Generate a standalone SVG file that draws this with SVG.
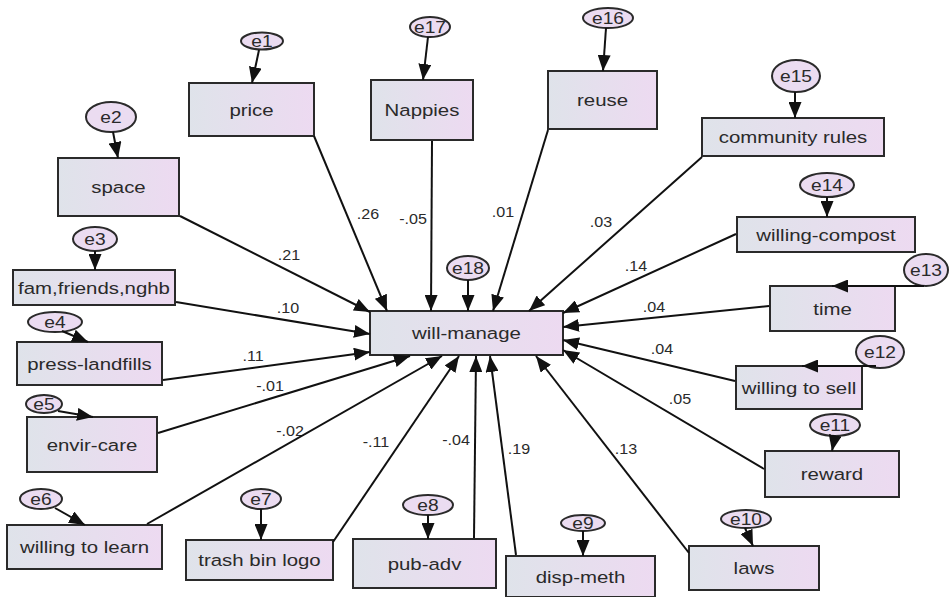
<svg xmlns="http://www.w3.org/2000/svg" width="952" height="597" viewBox="0 0 952 597">
<defs>
<linearGradient id="bg" x1="0" y1="0" x2="1" y2="0">
<stop offset="0" stop-color="#dfe3ea"/>
<stop offset="1" stop-color="#eddaf1"/>
</linearGradient>
<marker id="ah" markerUnits="userSpaceOnUse" markerWidth="17" markerHeight="13" refX="16" refY="6.5" orient="auto">
<path d="M0,0 L16,6.5 L0,13 z" fill="#111"/>
</marker>
<style>
.box{fill:url(#bg);stroke:#2a2a2a;stroke-width:2}
.err{fill:#ebdcf1;stroke:#2a2a2a;stroke-width:2}
.t{font-family:"Liberation Sans",Arial,sans-serif;font-size:17px;fill:#2a2a2a;text-anchor:middle}
.et{font-family:"Liberation Sans",Arial,sans-serif;font-size:16px;fill:#2a2a2a;text-anchor:middle}
.lb{font-family:"Liberation Sans",Arial,sans-serif;font-size:14px;fill:#2a2a2a;text-anchor:middle}
.c{stroke:#111;stroke-width:2;fill:none;marker-end:url(#ah)}
</style>
</defs>
<rect width="952" height="597" fill="#fff"/>
<g id="labels">
<text class="lb" transform="matrix(1.15 0 0 1 368 219)">.26</text>
<text class="lb" transform="matrix(1.15 0 0 1 413 224)">-.05</text>
<text class="lb" transform="matrix(1.15 0 0 1 503 217)">.01</text>
<text class="lb" transform="matrix(1.15 0 0 1 601 227)">.03</text>
<text class="lb" transform="matrix(1.15 0 0 1 636 271)">.14</text>
<text class="lb" transform="matrix(1.15 0 0 1 289 260)">.21</text>
<text class="lb" transform="matrix(1.15 0 0 1 288 313)">.10</text>
<text class="lb" transform="matrix(1.15 0 0 1 253 361)">.11</text>
<text class="lb" transform="matrix(1.15 0 0 1 270 391)">-.01</text>
<text class="lb" transform="matrix(1.15 0 0 1 654 312)">.04</text>
<text class="lb" transform="matrix(1.15 0 0 1 662 354)">.04</text>
<text class="lb" transform="matrix(1.15 0 0 1 680 404)">.05</text>
<text class="lb" transform="matrix(1.15 0 0 1 290 436)">-.02</text>
<text class="lb" transform="matrix(1.15 0 0 1 376 447)">-.11</text>
<text class="lb" transform="matrix(1.15 0 0 1 456 445)">-.04</text>
<text class="lb" transform="matrix(1.15 0 0 1 519 454)">.19</text>
<text class="lb" transform="matrix(1.15 0 0 1 626 454)">.13</text>
</g>
<g id="price"><rect class="box" x="189" y="83" width="125" height="53"/><text class="t" transform="matrix(1.2 0 0 1 251.5 115.5)">price</text></g>
<g id="Nappies"><rect class="box" x="371" y="80" width="102" height="60"/><text class="t" transform="matrix(1.2 0 0 1 422 116)">Nappies</text></g>
<g id="reuse"><rect class="box" x="548" y="71" width="109" height="58"/><text class="t" transform="matrix(1.2 0 0 1 602.5 106)">reuse</text></g>
<g id="community-rules"><rect class="box" x="702" y="118" width="182" height="38"/><text class="t" transform="matrix(1.2 0 0 1 793 143)">community rules</text></g>
<g id="space"><rect class="box" x="58" y="158" width="121" height="58"/><text class="t" transform="matrix(1.2 0 0 1 118.5 193)">space</text></g>
<g id="willing-compost"><rect class="box" x="737" y="217" width="178" height="35"/><text class="t" transform="matrix(1.2 0 0 1 826 240.5)">willing-compost</text></g>
<g id="fam"><rect class="box" x="13" y="270" width="162" height="35"/><text class="t" transform="matrix(1.2 0 0 1 94 293.5)">fam,friends,nghb</text></g>
<g id="time"><rect class="box" x="770" y="286" width="125" height="45"/><text class="t" transform="matrix(1.2 0 0 1 832.5 314.5)">time</text></g>
<g id="press-landfills"><rect class="box" x="17" y="342" width="145" height="43"/><text class="t" transform="matrix(1.2 0 0 1 89.5 369.5)">press-landfills</text></g>
<g id="will-manage"><rect class="box" x="370" y="311" width="193" height="44"/><text class="t" transform="matrix(1.2 0 0 1 466.5 339)">will-manage</text></g>
<g id="willing-to-sell"><rect class="box" x="736" y="366" width="126" height="43"/><text class="t" transform="matrix(1.2 0 0 1 799 393.5)">willing to sell</text></g>
<g id="envir-care"><rect class="box" x="27" y="417" width="130" height="55"/><text class="t" transform="matrix(1.2 0 0 1 92 450.5)">envir-care</text></g>
<g id="reward"><rect class="box" x="765" y="451" width="134" height="46"/><text class="t" transform="matrix(1.2 0 0 1 832 480)">reward</text></g>
<g id="willing-to-learn"><rect class="box" x="7" y="525" width="155" height="44"/><text class="t" transform="matrix(1.2 0 0 1 84.5 553)">willing to learn</text></g>
<g id="trash-bin-logo"><rect class="box" x="186" y="540" width="147" height="40"/><text class="t" transform="matrix(1.2 0 0 1 259.5 566)">trash bin logo</text></g>
<g id="pub-adv"><rect class="box" x="353" y="539" width="143" height="49"/><text class="t" transform="matrix(1.2 0 0 1 424.5 569.5)">pub-adv</text></g>
<g id="disp-meth"><rect class="box" x="506" y="556" width="149" height="41"/><text class="t" transform="matrix(1.2 0 0 1 580.5 583)">disp-meth</text></g>
<g id="laws"><rect class="box" x="689" y="546" width="130" height="44"/><text class="t" transform="matrix(1.2 0 0 1 754 574)">laws</text></g>
<g id="e1"><ellipse class="err" cx="262" cy="41" rx="21" ry="8.5"/><text class="et" transform="matrix(1.2 0 0 1 262 47)">e1</text></g>
<g id="e2"><ellipse class="err" cx="111" cy="117" rx="25" ry="15"/><text class="et" transform="matrix(1.2 0 0 1 111 123)">e2</text></g>
<g id="e17"><ellipse class="err" cx="430" cy="27" rx="20" ry="10"/><text class="et" transform="matrix(1.2 0 0 1 430 33)">e17</text></g>
<g id="e16"><ellipse class="err" cx="608" cy="18" rx="25" ry="10"/><text class="et" transform="matrix(1.2 0 0 1 608 24)">e16</text></g>
<g id="e15"><ellipse class="err" cx="796" cy="76" rx="24" ry="16"/><text class="et" transform="matrix(1.2 0 0 1 796 82)">e15</text></g>
<g id="e14"><ellipse class="err" cx="827" cy="185" rx="27" ry="12"/><text class="et" transform="matrix(1.2 0 0 1 827 191)">e14</text></g>
<g id="e3"><ellipse class="err" cx="95" cy="239" rx="22" ry="12"/><text class="et" transform="matrix(1.2 0 0 1 95 245)">e3</text></g>
<g id="e13"><ellipse class="err" cx="926" cy="270" rx="22" ry="16"/><text class="et" transform="matrix(1.2 0 0 1 926 276)">e13</text></g>
<g id="e4"><ellipse class="err" cx="55" cy="322" rx="27" ry="10"/><text class="et" transform="matrix(1.2 0 0 1 55 328)">e4</text></g>
<g id="e18"><ellipse class="err" cx="468" cy="268" rx="21" ry="12"/><text class="et" transform="matrix(1.2 0 0 1 468 274)">e18</text></g>
<g id="e12"><ellipse class="err" cx="880" cy="352" rx="24" ry="16"/><text class="et" transform="matrix(1.2 0 0 1 880 358)">e12</text></g>
<g id="e5"><ellipse class="err" cx="44" cy="404" rx="18" ry="9"/><text class="et" transform="matrix(1.2 0 0 1 44 410)">e5</text></g>
<g id="e11"><ellipse class="err" cx="835" cy="425" rx="25" ry="11"/><text class="et" transform="matrix(1.2 0 0 1 835 431)">e11</text></g>
<g id="e6"><ellipse class="err" cx="41" cy="499" rx="21" ry="10"/><text class="et" transform="matrix(1.2 0 0 1 41 505)">e6</text></g>
<g id="e7"><ellipse class="err" cx="261" cy="499" rx="20" ry="10"/><text class="et" transform="matrix(1.2 0 0 1 261 505)">e7</text></g>
<g id="e8"><ellipse class="err" cx="428" cy="505" rx="25" ry="10"/><text class="et" transform="matrix(1.2 0 0 1 428 511)">e8</text></g>
<g id="e10"><ellipse class="err" cx="746" cy="519" rx="25" ry="9"/><text class="et" transform="matrix(1.2 0 0 1 746 525)">e10</text></g>
<g id="e9"><ellipse class="err" cx="583" cy="523" rx="22" ry="8"/><text class="et" transform="matrix(1.2 0 0 1 583 529)">e9</text></g>
<g id="connectors">
<line class="c" x1="259" y1="50" x2="252" y2="83"/>
<line class="c" x1="113" y1="132" x2="118" y2="158"/>
<line class="c" x1="428" y1="37" x2="423" y2="80"/>
<line class="c" x1="606" y1="28" x2="603" y2="71"/>
<line class="c" x1="795" y1="92" x2="795" y2="118"/>
<line class="c" x1="827" y1="197" x2="827" y2="217"/>
<line class="c" x1="95" y1="251" x2="95" y2="270"/>
<line class="c" x1="924" y1="286" x2="832" y2="286"/>
<line class="c" x1="62" y1="331" x2="88" y2="342"/>
<line class="c" x1="876" y1="366" x2="802" y2="366"/>
<line class="c" x1="58" y1="411" x2="93" y2="417"/>
<line class="c" x1="835" y1="436" x2="832" y2="451"/>
<line class="c" x1="55" y1="508" x2="85" y2="525"/>
<line class="c" x1="261" y1="509" x2="261" y2="540"/>
<line class="c" x1="428" y1="515" x2="428" y2="539"/>
<line class="c" x1="745" y1="528" x2="753" y2="546"/>
<line class="c" x1="583" y1="531" x2="583" y2="556"/>
<line class="c" x1="468" y1="280" x2="468" y2="311"/>
<line class="c" x1="314" y1="136" x2="387" y2="311"/>
<line class="c" x1="432" y1="141" x2="431" y2="311"/>
<line class="c" x1="548" y1="130" x2="493" y2="311"/>
<line class="c" x1="702" y1="157" x2="529" y2="311"/>
<line class="c" x1="180" y1="216" x2="370" y2="312"/>
<line class="c" x1="736" y1="234" x2="563" y2="313"/>
<line class="c" x1="176" y1="302" x2="370" y2="334"/>
<line class="c" x1="769" y1="306" x2="563" y2="327"/>
<line class="c" x1="163" y1="380" x2="370" y2="352"/>
<line class="c" x1="735" y1="381" x2="563" y2="340"/>
<line class="c" x1="158" y1="433" x2="410" y2="356"/>
<line class="c" x1="764" y1="469" x2="563" y2="350"/>
<line class="c" x1="147" y1="524" x2="442" y2="356"/>
<line class="c" x1="333" y1="542" x2="459" y2="356"/>
<line class="c" x1="474" y1="538" x2="476" y2="356"/>
<line class="c" x1="516" y1="555" x2="490" y2="356"/>
<line class="c" x1="689" y1="553" x2="536" y2="356"/>
</g>
</svg>
